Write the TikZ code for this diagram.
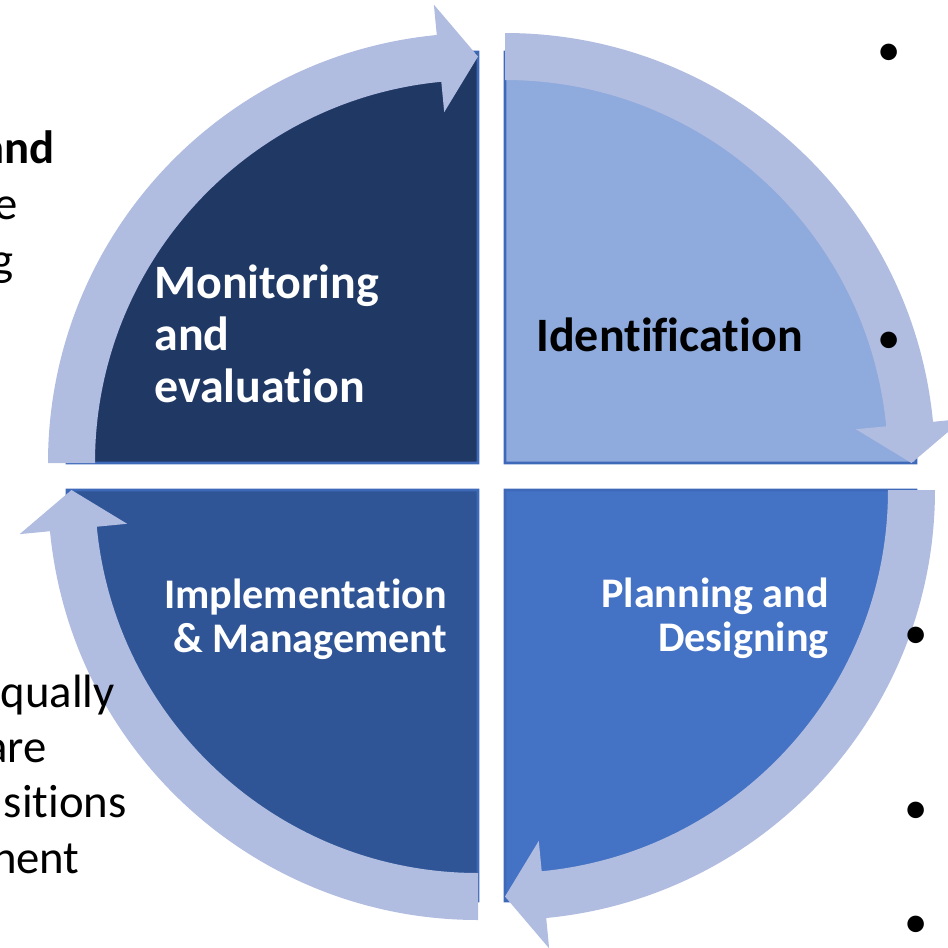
\documentclass[tikz,border=0pt]{standalone}
\usepackage{fontspec}
\setmainfont{Carlito}[Ligatures=NoCommon]
\usetikzlibrary{calc}
\definecolor{navyq}{HTML}{203864}
\definecolor{lightq}{HTML}{8FAADC}
\definecolor{midq}{HTML}{4472C4}
\definecolor{darkq}{HTML}{2F5597}
\definecolor{ringc}{HTML}{B0BCE0}
\definecolor{edgec}{HTML}{3E69B9}
\newcommand\quadsector[4]{%
  \filldraw[fill=#4, draw=edgec, line width=1.6pt] (#1,#2) -- ++(#3:411)
    arc[start angle=#3, end angle=#3+90, radius=411] -- cycle;}
\newcommand\ringarrow[3]{%
  \fill[ringc] ($(#1,#2)+(#3:430)$) arc[start angle=#3, end angle=#3+84.5, radius=430]
    -- ($(#1,#2)+(#3+84.5:460.5)$) -- ($(#1,#2)+(#3+90:406.5)$)
    -- ($(#1,#2)+(#3+84.5:352.5)$) -- ($(#1,#2)+(#3+84.5:383)$)
    arc[start angle=#3+84.5, end angle=#3, radius=383] -- cycle;}
\tikzset{
  sectortext/.style={inner sep=0pt, font=\fontsize{27.3}{29.5}\selectfont\bfseries},
  smalltext/.style={inner sep=0pt, font=\fontsize{24}{25}\selectfont\bfseries, text=white, align=right, anchor=east},
  bgtext/.style={inner sep=0pt, font=\fontsize{26.6}{32}\selectfont, anchor=base east},
  bulletmark/.style={inner sep=0pt, font=\fontsize{26.6}{32}\selectfont, anchor=center}
}
\begin{document}
\begin{tikzpicture}[x=0.02cm, y=-0.02cm]
\useasboundingbox (0,0) rectangle (948,948);
\clip (0,0) rectangle (948,948);
% sectors
\quadsector{478}{463}{180}{navyq}
\quadsector{505}{463}{270}{lightq}
\quadsector{505}{490}{0}{midq}
\quadsector{478}{490}{90}{darkq}
% ring arrows
\ringarrow{478}{463}{180}
\ringarrow{505}{463}{270}
\ringarrow{505}{490}{0}
\ringarrow{478}{490}{90}
% sector labels
\node[sectortext, text=white, anchor=west, align=left] (mon) at (154,334) {Monitoring\\and\\evaluation};
\node[sectortext, text=black, anchor=west] (ident) at (536,335) {Identification};
\node[smalltext] (plan) at (829,618) {Planning and\\Designing};
\node[smalltext] (impl) at (447,619) {Implementation\\\& Management};
% background slide text fragments
\node[bgtext, font=\fontsize{26.6}{32}\selectfont\bfseries] (f1) at (55,163) {and};
\node[bgtext] (f2) at (18,219) {e};
\node[bgtext] (f3) at (14,275) {g};
\node[bgtext] (f4) at (115,707) {qually};
\node[bgtext] (f5) at (47,762) {are};
\node[bgtext] (f6) at (127,817) {sitions};
\node[bgtext] (f7) at (80,873) {nent};
% bullets
\node[bulletmark] (b1) at (889,55) {•};
\node[bulletmark] (b2) at (889,343) {•};
\node[bulletmark] (b3) at (916,638) {•};
\node[bulletmark] (b4) at (916,813) {•};
\node[bulletmark] (b5) at (916,927) {•};
\end{tikzpicture}
\end{document}
